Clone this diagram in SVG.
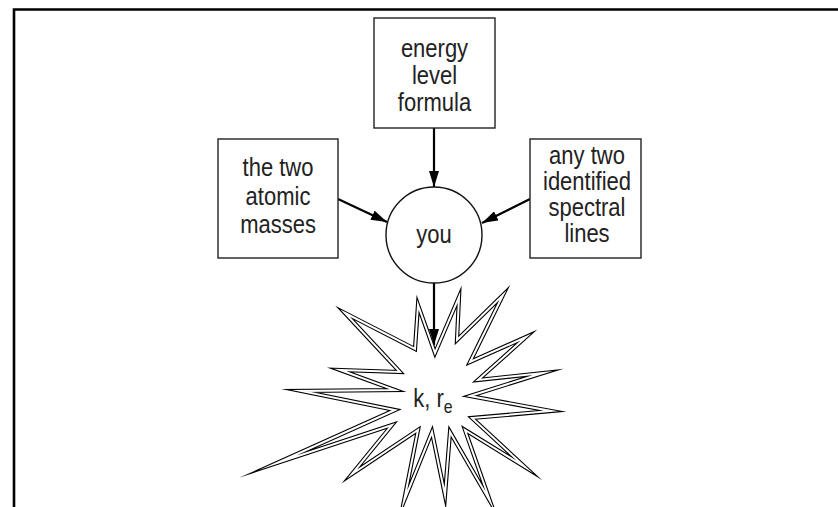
<svg xmlns="http://www.w3.org/2000/svg" width="838" height="507" viewBox="0 0 838 507">
<defs>
<marker id="ah" markerUnits="userSpaceOnUse" markerWidth="16" markerHeight="10" refX="16" refY="5" orient="auto">
<path d="M0,0 L16,5 L0,10 z" fill="#000"/>
</marker>
<style>
.box{fill:#fff;stroke:#222;stroke-width:1.4}
.t{font-family:"Liberation Sans",Arial,sans-serif;font-size:25px;fill:#222;text-anchor:middle}
.c{stroke:#000;stroke-width:2.2;fill:none;marker-end:url(#ah)}
.star{stroke-linejoin:miter;stroke-miterlimit:40}
</style>
</defs>
<rect width="838" height="507" fill="#fff"/>
<path d="M14,507 V9.5 H838" fill="none" stroke="#000" stroke-width="2.6"/>
<g id="connectors">
<line class="c" x1="434" y1="128" x2="434" y2="187"/>
<line class="c" x1="338" y1="199" x2="387" y2="222"/>
<line class="c" x1="530" y1="199" x2="482" y2="223"/>
<line class="c" x1="434" y1="283" x2="434" y2="345"/>
</g>
<g id="energy">
<rect class="box" x="374" y="18" width="121" height="110"/>
<text class="t" transform="translate(434.5,57) scale(0.88,1)">energy</text>
<text class="t" transform="translate(434.5,84) scale(0.88,1)">level</text>
<text class="t" transform="translate(434.5,111) scale(0.88,1)">formula</text>
</g>
<g id="masses">
<rect class="box" x="218" y="139" width="120" height="119"/>
<text class="t" transform="translate(278,176) scale(0.88,1)">the two</text>
<text class="t" transform="translate(278,205) scale(0.88,1)">atomic</text>
<text class="t" transform="translate(278,233) scale(0.88,1)">masses</text>
</g>
<g id="lines">
<rect class="box" x="530" y="139" width="111" height="119"/>
<text class="t" transform="translate(587,164) scale(0.88,1)">any two</text>
<text class="t" transform="translate(587,190) scale(0.88,1)">identified</text>
<text class="t" transform="translate(587,216) scale(0.88,1)">spectral</text>
<text class="t" transform="translate(587,242) scale(0.88,1)">lines</text>
</g>
<g id="you">
<circle cx="434" cy="235" r="48" fill="#fff" stroke="#111" stroke-width="1.4"/>
<text class="t" transform="translate(434,243) scale(0.88,1)">you</text>
</g>
<g id="result">
<polygon class="star" points="345,313 415,349 418,305 435,353 459,297 457,340 503,295 470,362 526,337 478,380 543,373 470,396 551,411 472,418 525,467 465,430 490,501 450,432 445,495 432,432 404,501 418,430 352,474 392,425 277,463 395,410 301,391 395,390 340,370 400,372" fill="#fff" stroke="#000" stroke-width="4.2"/>
<polygon class="star" points="345,313 415,349 418,305 435,353 459,297 457,340 503,295 470,362 526,337 478,380 543,373 470,396 551,411 472,418 525,467 465,430 490,501 450,432 445,495 432,432 404,501 418,430 352,474 392,425 277,463 395,410 301,391 395,390 340,370 400,372" fill="none" stroke="#fff" stroke-width="2"/>
<text class="t" transform="translate(433,407) scale(0.88,1)">k, r<tspan font-size="18" dy="6">e</tspan></text>
</g>
</svg>
